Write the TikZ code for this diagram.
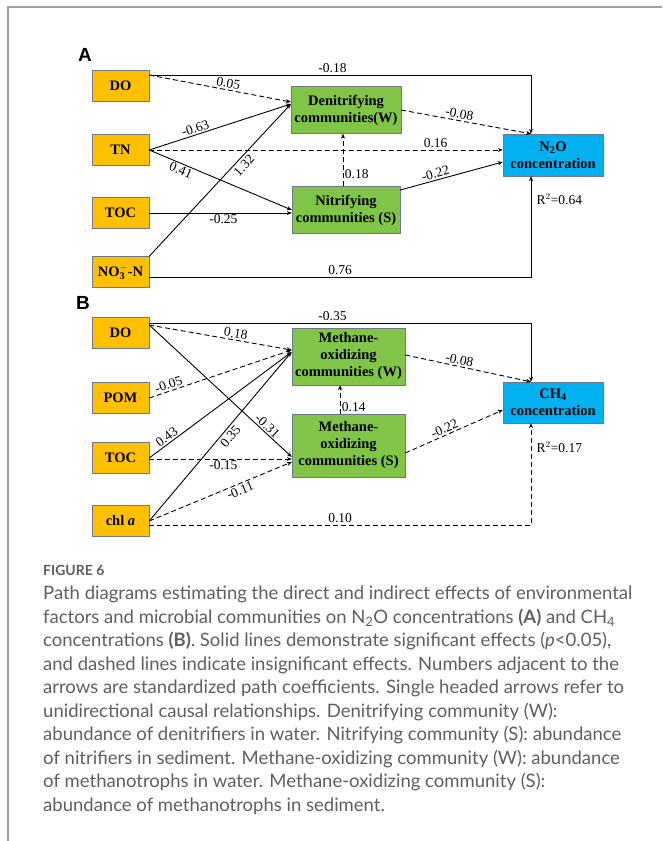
\documentclass[tikz,border=0pt]{standalone}
\usepackage{fontspec}
\setmainfont{Liberation Serif}
\newfontfamily\panelfont{Liberation Sans}
\newfontfamily\capfont{Lato}
\usetikzlibrary{arrows.meta, positioning}

\definecolor{envorange}{RGB}{255,192,0}
\definecolor{microgreen}{RGB}{128,196,72}
\definecolor{gasblue}{RGB}{0,176,240}
\definecolor{boxline}{RGB}{110,120,140}
\definecolor{framegray}{RGB}{160,160,160}
\definecolor{captext}{RGB}{95,95,95}

\tikzset{
  envbox/.style={rectangle, draw=boxline, fill=envorange, minimum width=57pt, minimum height=31pt, align=center, font=\fontsize{14.5}{17}\selectfont\bfseries},
  microbox/.style={envbox, fill=microgreen, minimum width=108pt, minimum height=47pt},
  methbox/.style={microbox, minimum width=113pt},
  gasbox/.style={envbox, fill=gasblue, minimum width=100pt, minimum height=42pt},
  coef/.style={font=\fontsize{13.5}{16}\selectfont, inner sep=1.5pt},
  sig/.style={-{Stealth[length=5pt,width=4pt]}, line width=0.9pt},
  nsig/.style={sig, dash pattern=on 5pt off 3pt},
  panel/.style={font=\panelfont\fontsize{19}{22}\selectfont\bfseries}
}

\begin{document}
\begin{tikzpicture}[x=1pt, y=-1pt]
\useasboundingbox (0,0) rectangle (662,841);
\draw[framegray, line width=1.2pt] (8,841) |- (662,7);

% panel A
\node[panel] (labA) at (85,55) {A};
\node[envbox] (doA) at (120.5,86) {DO};
\node[envbox] (tnA) at (120.5,150) {TN};
\node[envbox] (tocA) at (120.5,213) {TOC};
\node[envbox] (no3A) at (120.5,272) {NO$_\mathbf{3}^{\mathbf{-}}$-N};
\node[microbox] (denit) at (346,110) {Denitrifying\\communities(W)};
\node[microbox] (nitri) at (346,210) {Nitrifying\\communities (S)};
\node[gasbox] (n2o) at (553,155) {N$_\mathbf{2}$O\\concentration};

\draw[sig] ([yshift=11pt]doA.east) -| node[coef, pos=0.24, above] {-0.18} ([xshift=-22pt]n2o.north);
\draw[nsig] ([yshift=11pt]doA.east) -- node[coef, pos=0.55, above, sloped] {0.05} ([yshift=8pt]denit.west);
\draw[sig] (tnA.east) -- node[coef, pos=0.34, above, sloped] {-0.63} ([yshift=6pt]denit.west);
\draw[nsig] (tnA.east) -- node[coef, pos=0.81, above] {0.16} (tnA.east -| n2o.west);
\draw[sig] (tnA.east) -- node[coef, pos=0.24, below, sloped] {0.41} (nitri.west);
\draw[sig] (tocA.east) -- node[coef, pos=0.52, below] {-0.25} (tocA.east -| nitri.west);
\draw[sig] (no3A.north east) -- node[coef, pos=0.63, below, sloped, inner sep=2.5pt] {1.32} ([yshift=6pt]denit.west);
\draw[sig] ([yshift=-5pt]no3A.east) -| node[coef, pos=0.25, above] {0.76} ([xshift=-22pt]n2o.south);
\draw[nsig] (denit.east) -- node[coef, pos=0.44, above, sloped] {-0.08} ([xshift=-22pt]n2o.north);
\draw[nsig] ([xshift=-3pt]nitri.north) -- node[coef, pos=0.23, right] {0.18} ([xshift=-3pt]denit.south);
\draw[sig] ([yshift=20pt]nitri.east) -- node[coef, pos=0.36, above, sloped] {-0.22} ([yshift=-7pt]n2o.west);
\node[coef, anchor=west] (r2A) at (535,199) {R$^2$=0.64};

% panel B
\node[panel] (labB) at (83,303) {B};
\node[envbox] (doB) at (120.5,333) {DO};
\node[envbox] (pomB) at (120.5,398) {POM};
\node[envbox] (tocB) at (120.5,458) {TOC};
\node[envbox] (chlB) at (120.5,521) {chl \textit{a}};
\node[methbox, minimum height=57pt] (mw) at (348.5,356.5) {Methane-\\oxidizing\\communities (W)};
\node[methbox, minimum height=63pt] (ms) at (348.5,445.5) {Methane-\\oxidizing\\communities (S)};
\node[gasbox, minimum height=41pt] (ch4) at (553,402.5) {CH$_\mathbf{4}$\\concentration};

\draw[sig] ([yshift=10pt]doB.east) -| node[coef, pos=0.24, above] {-0.35} ([xshift=-22pt]ch4.north);
\draw[nsig] ([yshift=8pt]doB.east) -- node[coef, pos=0.6, above, sloped] {0.18} ([yshift=6.5pt]mw.west);
\draw[sig] ([yshift=8pt]doB.east) -- node[coef, pos=0.8, above, sloped, inner sep=1pt] {-0.31} ([yshift=-11.5pt]ms.west);
\draw[nsig] (pomB.east) -- node[coef, pos=0.15, above, sloped] {-0.05} ([yshift=6.5pt]mw.west);
\draw[sig] (tocB.east) -- node[coef, pos=0.15, above, sloped] {0.43} ([yshift=4.5pt]mw.west);
\draw[nsig] ([yshift=-1pt]tocB.east) -- node[coef, pos=0.52, below] {-0.15} ([yshift=-1pt]tocB.east -| ms.west);
\draw[sig] (chlB.east) -- node[coef, pos=0.53, below, sloped, inner sep=2.5pt] {0.35} ([yshift=4.5pt]mw.west);
\draw[nsig] (chlB.east) -- node[coef, pos=0.62, below, sloped] {-0.11} ([yshift=-16.5pt]ms.west);
\draw[nsig] ([yshift=-4pt]chlB.east) -| node[coef, pos=0.25, above] {0.10} ([xshift=-22pt]ch4.south);
\draw[nsig] ([yshift=1.5pt]mw.east) -- node[coef, pos=0.42, above, sloped] {-0.08} ([xshift=-22pt]ch4.north);
\draw[nsig] ([xshift=-8.5pt]ms.north) -- node[coef, pos=0.24, right] {0.14} ([xshift=-8.5pt]mw.south);
\draw[nsig] ([yshift=-7.5pt]ms.east) -- node[coef, pos=0.43, above, sloped] {-0.22} ([yshift=-7.5pt]ch4.west);
\node[coef, anchor=west] (r2B) at (535,447) {R$^2$=0.17};

% caption
\node[anchor=north west, inner sep=0pt, text=captext, font=\capfont\fontsize{14}{17}\selectfont\bfseries] (fig) at (43,565) {FIGURE 6};
\node[anchor=north west, inner sep=0pt, align=left, text=captext, font=\capfont\fontsize{18.5}{23.5}\selectfont] (cap) at (43,586)
{Path diagrams estimating the direct and indirect effects of environmental\\
factors and microbial communities on N\textsubscript{2}O concentrations \textbf{(A)} and CH\textsubscript{4}\\
concentrations \textbf{(B)}. Solid lines demonstrate significant effects (\textit{p}<0.05),\\
and dashed lines indicate insignificant effects. Numbers adjacent to the\\
arrows are standardized path coefficients. Single headed arrows refer to\\
unidirectional causal relationships. Denitrifying community (W):\\
abundance of denitrifiers in water. Nitrifying community (S): abundance\\
of nitrifiers in sediment. Methane-oxidizing community (W): abundance\\
of methanotrophs in water. Methane-oxidizing community (S):\\
abundance of methanotrophs in sediment.};
\end{tikzpicture}
\end{document}
